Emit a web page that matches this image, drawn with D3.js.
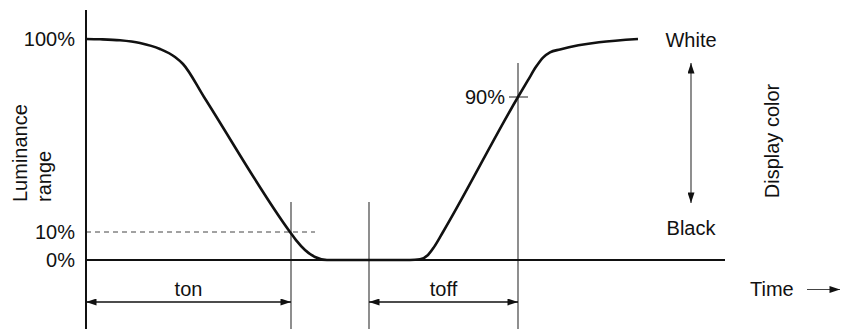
<!DOCTYPE html>
<html>
<head>
<meta charset="utf-8">
<script src="https://cdn.jsdelivr.net/npm/d3@7"></script>
<style>
  body { margin: 0; background: #fff; }
</style>
</head>
<body>
<div id="chart"></div>
<script>
// response curve: time (arbitrary units), luminance (%)
const times = [0, 1.4, 3.4, 5.4, 7.4, 8.9, 9.7, 11.8, 20.4, 21.0, 21.9, 22.9, 24.1,
               32.4, 33.4, 34.2, 34.8, 35.7, 43.2, 44.2, 45.0, 45.7, 46.4, 47.4, 55.2];
const lum   = [100, 99.95, 99.78, 99.31, 98.28, 96.9, 95.69, 90, 10, 7.1, 3.6, 1.07, 0,
               0, 0.25, 1.8, 4.6, 10, 90, 92.9, 95.2, 96.8, 97.7, 98.2, 100];

const tickValues = [0, 10, 100];
const tickLabels = ['0%', '10%', '100%'];
const tOnEnd = 20.5, tOffStart = 28.3, tOffEnd = 43.2;
const level90 = 90, level10 = 10;

const width = 841, height = 329;

const svg = d3.select('#chart').append('svg')
  .attr('width', width).attr('height', height)
  .attr('font-family', '"Liberation Sans", Arial, sans-serif')
  .attr('font-size', 20)
  .attr('fill', '#111');

const defs = svg.append('defs');
defs.append('marker')
  .attr('id', 'arr')
  .attr('viewBox', '0 0 12 8')
  .attr('refX', 12).attr('refY', 4)
  .attr('markerWidth', 12).attr('markerHeight', 7)
  .attr('markerUnits', 'userSpaceOnUse')
  .attr('orient', 'auto-start-reverse')
  .append('path').attr('d', 'M0,0 L12,4 L0,8 Z').attr('fill', '#111');

// schematic (not to scale) luminance axis
const x = d3.scaleLinear().domain([0, 64]).range([86, 726]);
const y = d3.scaleLinear().domain([0, 10, 90, 100]).range([260, 232, 97, 39]);

// dashed 10% guide
svg.append('line')
  .attr('x1', x(0)).attr('x2', 315)
  .attr('y1', y(level10)).attr('y2', y(level10))
  .attr('stroke', '#444').attr('stroke-width', 1).attr('stroke-dasharray', '5,4');

// vertical markers
[[tOnEnd, 202], [tOffStart, 202], [tOffEnd, 63]].forEach(([t, top]) => {
  svg.append('line')
    .attr('x1', x(t)).attr('x2', x(t))
    .attr('y1', top).attr('y2', height)
    .attr('stroke', '#444').attr('stroke-width', 1.2);
});

// 90% tick
svg.append('line')
  .attr('x1', x(tOffEnd) - 9).attr('x2', x(tOffEnd) + 10)
  .attr('y1', y(level90)).attr('y2', y(level90))
  .attr('stroke', '#444').attr('stroke-width', 1.2);
svg.append('text')
  .attr('x', x(tOffEnd) - 13).attr('y', y(level90) + 7)
  .attr('text-anchor', 'end').text('90%');

// axes
svg.append('line')
  .attr('x1', x(0)).attr('x2', x(0)).attr('y1', 10).attr('y2', height)
  .attr('stroke', '#111').attr('stroke-width', 2);
svg.append('line')
  .attr('x1', x(0)).attr('x2', 725).attr('y1', y(0)).attr('y2', y(0))
  .attr('stroke', '#111').attr('stroke-width', 1.8);

svg.selectAll('.tick-label')
  .data(tickValues)
  .join('text')
    .attr('class', 'tick-label')
    .attr('x', 75)
    .attr('y', d => y(d) + 7)
    .attr('text-anchor', 'end')
    .text((d, i) => tickLabels[i]);

// curve
const line = d3.line()
  .x(d => x(d[0]))
  .y(d => y(d[1]))
  .curve(d3.curveMonotoneX);

svg.append('path')
  .datum(times.map((t, i) => [t, lum[i]]))
  .attr('d', line)
  .attr('fill', 'none')
  .attr('stroke', '#111')
  .attr('stroke-width', 2.6)
  .attr('stroke-linejoin', 'round');

// ton / toff arrows
function span(t0, t1, label) {
  svg.append('line')
    .attr('x1', x(t0)).attr('x2', x(t1))
    .attr('y1', 302).attr('y2', 302)
    .attr('stroke', '#111').attr('stroke-width', 1.5)
    .attr('marker-start', 'url(#arr)').attr('marker-end', 'url(#arr)');
  svg.append('text')
    .attr('x', (x(t0) + x(t1)) / 2).attr('y', 296)
    .attr('text-anchor', 'middle').text(label);
}
span(0, tOnEnd, 'ton');
span(tOffStart, tOffEnd, 'toff');

// y axis title
const yt = svg.append('text').attr('transform', 'translate(27,202) rotate(-90)');
yt.append('tspan').attr('x', 0).attr('dy', 0).text('Luminance');
yt.append('tspan').attr('x', 0).attr('dy', 24).text('range');

// display colour scale
svg.append('text').attr('x', 691).attr('y', 47).attr('text-anchor', 'middle').text('White');
svg.append('text').attr('x', 691).attr('y', 235).attr('text-anchor', 'middle').text('Black');
svg.append('line')
  .attr('x1', 691).attr('x2', 691).attr('y1', 63).attr('y2', 203)
  .attr('stroke', '#444').attr('stroke-width', 1.2)
  .attr('marker-start', 'url(#arr)').attr('marker-end', 'url(#arr)');
svg.append('text')
  .attr('transform', 'translate(779,141) rotate(-90)')
  .attr('text-anchor', 'middle').text('Display color');

// time label
svg.append('text').attr('x', 750).attr('y', 296).text('Time');
svg.append('line')
  .attr('x1', 807).attr('x2', 840).attr('y1', 289.5).attr('y2', 289.5)
  .attr('stroke', '#444').attr('stroke-width', 1.2)
  .attr('marker-end', 'url(#arr)');
</script>
</body>
</html>
